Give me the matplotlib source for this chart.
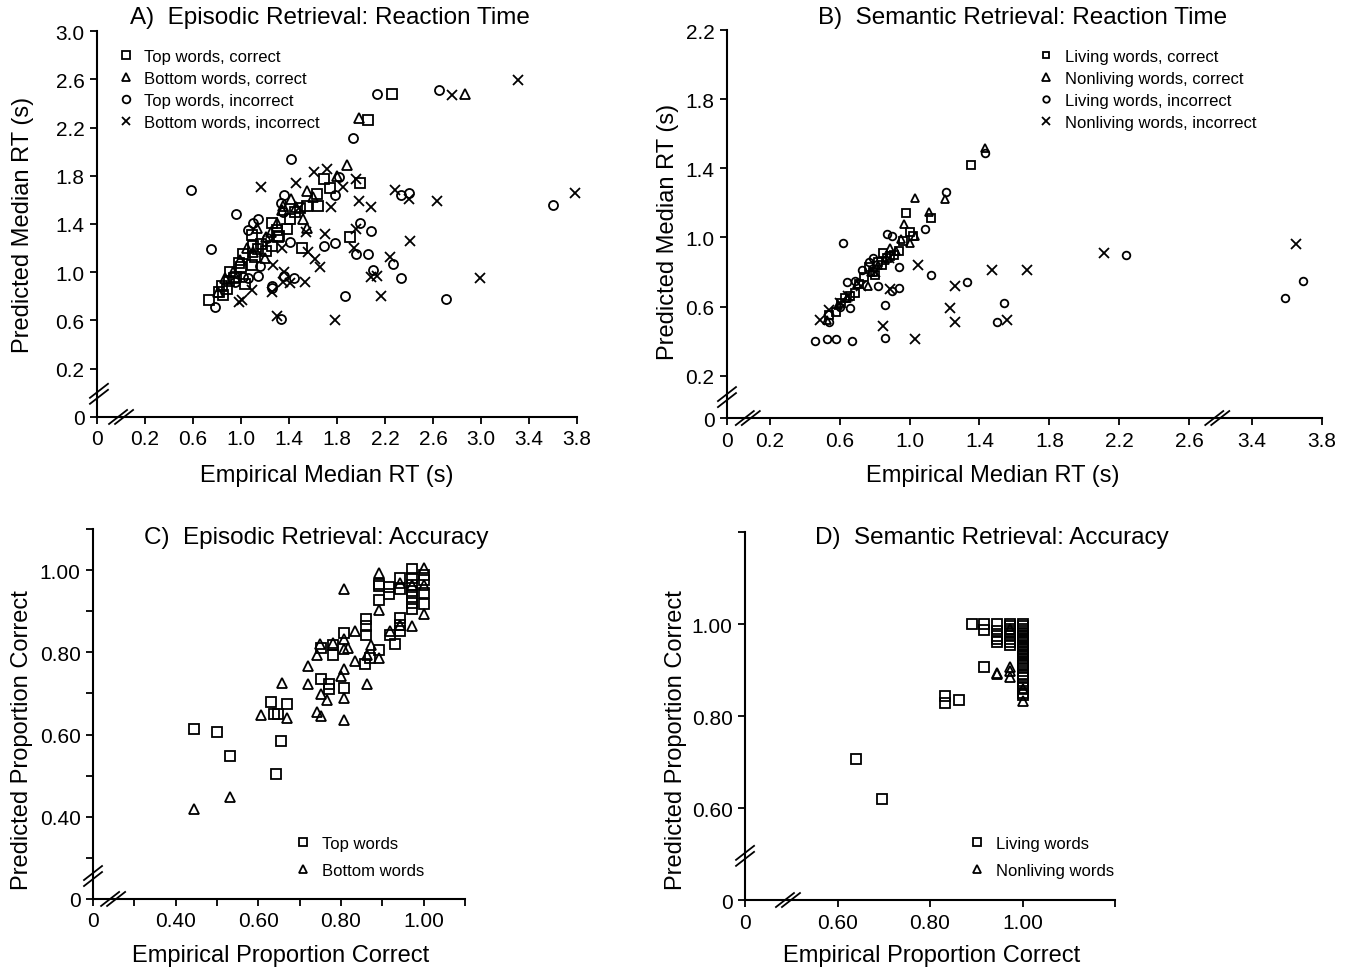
import numpy as np
import matplotlib
matplotlib.use("Agg")
import matplotlib.pyplot as plt

plt.rcParams["font.family"] = ["Liberation Sans", "DejaVu Sans"]

FIG_W, FIG_H = 1348, 970

# ---- A) Episodic retrieval RT ----
a_top_cor_x = [2.26, 2.06, 1.99, 1.69, 1.74, 1.63, 1.64, 1.55, 1.91, 1.51, 1.26, 1.30, 1.31, 1.26,
               1.21, 1.09, 1.10, 1.02, 0.98, 1.09, 0.91, 1.03, 0.94, 0.84, 0.88, 0.85, 0.73, 1.41,
               1.49, 1.38, 1.14, 1.17, 1.32, 1.45, 0.96, 1.00, 0.82, 0.90, 1.12]
a_top_cor_y = [2.48, 2.26, 1.74, 1.77, 1.70, 1.65, 1.55, 1.55, 1.29, 1.20, 1.41, 1.35, 1.29, 1.22,
               1.18, 1.31, 1.22, 1.15, 1.08, 1.06, 1.00, 0.90, 0.95, 0.89, 0.86, 0.81, 0.77, 1.44,
               1.53, 1.36, 1.19, 1.23, 1.30, 1.50, 0.96, 1.04, 0.84, 0.93, 1.13]
a_bot_cor_x = [2.87, 1.98, 1.88, 1.80, 1.55, 1.42, 1.52, 1.55, 1.30, 1.13, 1.21, 1.20, 0.99, 1.10,
               0.87, 0.81, 1.35, 1.46, 1.60, 1.34, 1.05, 0.93, 1.25]
a_bot_cor_y = [2.48, 2.28, 1.89, 1.80, 1.67, 1.61, 1.44, 1.37, 1.41, 1.37, 1.29, 1.12, 1.10, 1.17,
               0.95, 0.84, 1.55, 1.54, 1.62, 1.52, 1.20, 1.00, 1.33]
a_top_inc_x = [0.58, 0.96, 0.75, 0.78, 1.42, 1.36, 1.33, 1.35, 1.14, 1.10, 1.06, 1.41, 1.16, 1.14,
               1.06, 1.26, 1.26, 1.36, 1.44, 1.33, 1.69, 1.78, 1.78, 1.82, 1.93, 2.13, 1.99, 2.08,
               1.96, 2.06, 2.10, 1.87, 2.27, 2.33, 2.33, 2.40, 2.65, 2.71, 3.60, 0.95, 1.02, 1.22]
a_top_inc_y = [1.68, 1.48, 1.19, 0.71, 1.94, 1.64, 1.57, 1.50, 1.44, 1.41, 1.35, 1.25, 1.05, 0.97,
               0.95, 0.89, 0.87, 0.97, 0.95, 0.61, 1.22, 1.24, 1.64, 1.79, 2.11, 2.48, 1.41, 1.34,
               1.15, 1.15, 1.02, 0.80, 1.07, 0.95, 1.64, 1.66, 2.51, 0.78, 1.56, 0.92, 0.96, 1.28]
a_bot_inc_x = [3.31, 2.76, 3.78, 2.63, 2.99, 2.28, 2.40, 2.41, 2.24, 2.08, 2.13, 2.17, 1.78, 2.08,
               1.98, 1.96, 1.85, 1.72, 1.61, 1.46, 1.17, 1.75, 1.70, 1.96, 1.94, 1.54, 1.56, 1.62,
               1.66, 1.53, 1.41, 1.36, 1.35, 1.27, 1.26, 1.30, 1.09, 1.01, 0.98, 1.34, 1.48]
a_bot_inc_y = [2.59, 2.47, 1.66, 1.59, 0.95, 1.68, 1.61, 1.26, 1.13, 0.96, 0.97, 0.80, 0.60, 1.54,
               1.59, 1.77, 1.71, 1.86, 1.83, 1.74, 1.71, 1.54, 1.32, 1.36, 1.20, 1.33, 1.17, 1.11,
               1.04, 0.92, 0.91, 1.00, 0.92, 1.06, 0.84, 0.64, 0.85, 0.77, 0.75, 1.20, 1.53]

# ---- B) Semantic retrieval RT ----
b_liv_cor_x = [1.35, 0.98, 1.12, 1.00, 0.94, 0.89, 0.85, 0.80, 0.77, 0.69, 0.63, 0.61, 0.58, 0.54,
               0.82, 0.87, 0.91, 0.96, 0.74, 0.71, 0.66, 0.84, 0.79, 1.02]
b_liv_cor_y = [1.42, 1.14, 1.11, 1.03, 0.92, 0.89, 0.91, 0.78, 0.83, 0.68, 0.65, 0.62, 0.57, 0.55,
               0.86, 0.88, 0.90, 0.98, 0.77, 0.73, 0.66, 0.84, 0.80, 1.01]
b_non_cor_x = [1.43, 1.03, 1.20, 1.11, 0.97, 1.03, 1.00, 0.95, 0.76, 0.70, 0.64, 0.59, 0.53, 0.82,
               0.89, 0.86, 0.78, 0.92]
b_non_cor_y = [1.52, 1.23, 1.22, 1.15, 1.08, 1.01, 0.97, 0.99, 0.72, 0.73, 0.65, 0.61, 0.52, 0.84,
               0.94, 0.87, 0.80, 0.92]
b_liv_inc_x = [1.43, 1.21, 1.09, 0.87, 0.90, 0.62, 0.94, 1.12, 0.79, 0.73, 0.64, 0.69, 0.82, 0.94,
               0.90, 0.66, 0.86, 1.33, 1.54, 1.50, 0.46, 0.53, 0.58, 0.67, 0.86, 2.24, 3.59, 3.69,
               0.54, 0.60, 0.77]
b_liv_inc_y = [1.49, 1.26, 1.05, 1.02, 1.01, 0.97, 0.83, 0.78, 0.88, 0.81, 0.74, 0.75, 0.72, 0.71,
               0.69, 0.59, 0.61, 0.74, 0.62, 0.51, 0.40, 0.41, 0.41, 0.40, 0.42, 0.90, 0.65, 0.75,
               0.51, 0.60, 0.86]
b_non_inc_x = [2.11, 3.65, 1.05, 1.47, 1.67, 1.26, 0.89, 1.23, 1.26, 1.56, 0.85, 1.03, 0.49, 0.54,
               0.60, 0.65, 0.72, 0.80, 0.88]
b_non_inc_y = [0.91, 0.96, 0.84, 0.81, 0.81, 0.72, 0.70, 0.59, 0.51, 0.52, 0.49, 0.41, 0.52, 0.58,
               0.62, 0.66, 0.72, 0.80, 0.88]

# ---- C) Episodic retrieval accuracy ----
c_top_x = [0.445, 0.501, 0.531, 0.655, 0.642, 0.630, 0.670, 0.639, 0.647, 0.751, 0.770, 0.770,
           0.808, 0.751, 0.780, 0.780, 0.808, 0.861, 0.861, 0.861, 0.858, 0.870, 0.891, 0.931,
           0.919, 0.943, 0.943, 0.943, 0.891, 0.891, 0.891, 0.917, 0.917, 0.943, 0.943, 0.972,
           0.972, 0.972, 0.972, 0.972, 0.972, 0.972, 1.0, 1.0, 1.0, 1.0]
c_top_y = [0.614, 0.607, 0.548, 0.585, 0.503, 0.680, 0.675, 0.650, 0.650, 0.735, 0.724, 0.711,
           0.713, 0.811, 0.793, 0.819, 0.846, 0.880, 0.863, 0.841, 0.772, 0.786, 0.805, 0.821,
           0.841, 0.884, 0.867, 0.851, 0.928, 0.961, 0.967, 0.959, 0.942, 0.953, 0.981, 1.002,
           0.981, 0.965, 0.950, 0.935, 0.920, 0.905, 0.989, 0.975, 0.945, 0.918]
c_bot_x = [0.445, 0.531, 0.606, 0.658, 0.670, 0.721, 0.721, 0.743, 0.749, 0.751, 0.767, 0.743,
           0.751, 0.780, 0.800, 0.808, 0.808, 0.808, 0.808, 0.808, 0.818, 0.808, 0.834, 0.834,
           0.863, 0.863, 0.873, 0.891, 0.891, 0.891, 0.919, 0.943, 0.943, 0.972, 0.972, 1.0,
           1.0, 1.0]
c_bot_y = [0.420, 0.449, 0.648, 0.725, 0.641, 0.766, 0.724, 0.794, 0.821, 0.699, 0.683, 0.656,
           0.646, 0.823, 0.743, 0.759, 0.690, 0.636, 0.833, 0.808, 0.810, 0.954, 0.851, 0.780,
           0.723, 0.793, 0.817, 0.785, 0.993, 0.904, 0.851, 0.866, 0.969, 0.863, 0.965, 1.006,
           0.965, 0.893]

# ---- D) Semantic retrieval accuracy ----
d_liv_x = [0.640, 0.696, 0.833, 0.833, 0.862, 0.890, 0.917, 0.917, 0.917, 0.945, 0.945, 0.945,
           0.945, 0.945, 0.973, 0.973, 0.973, 0.973, 0.973, 0.973, 0.973, 0.973, 0.973,
           1.0, 1.0, 1.0, 1.0, 1.0, 1.0, 1.0, 1.0, 1.0, 1.0, 1.0, 1.0, 1.0, 1.0, 1.0, 1.0,
           1.0, 1.0, 1.0, 1.0, 1.0, 1.0, 1.0, 1.0, 1.0, 1.0, 1.0]
d_liv_y = [0.706, 0.620, 0.844, 0.829, 0.835, 1.000, 1.000, 0.987, 0.906, 1.000, 0.985, 0.975,
           0.968, 0.962, 1.000, 0.995, 0.990, 0.985, 0.980, 0.975, 0.968, 0.962, 0.955,
           1.000, 0.995, 0.990, 0.985, 0.980, 0.975, 0.970, 0.965, 0.960, 0.955, 0.950, 0.945,
           0.940, 0.935, 0.930, 0.925, 0.920, 0.915, 0.910, 0.905, 0.890, 0.885, 0.877, 0.870,
           0.862, 0.851, 0.846]
d_non_x = [0.945, 0.945, 0.973, 0.973, 0.973, 1.0, 1.0, 0.973]
d_non_y = [0.891, 0.893, 0.906, 0.898, 0.884, 0.833, 0.858, 0.990]

# axis tick values (the "0" label sits at a shifted spot past the axis break)
a_ticks = [0.2, 0.6, 1.0, 1.4, 1.8, 2.2, 2.6, 3.0, 3.4, 3.8]
a_yticks = [0.2, 0.6, 1.0, 1.4, 1.8, 2.2, 2.6, 3.0]
b_xticks = [0.2, 0.6, 1.0, 1.4, 1.8, 2.2, 2.6, 3.4, 3.8]
b_yticks = [0.2, 0.6, 1.0, 1.4, 1.8, 2.2]
c_ticks = [0.3, 0.4, 0.5, 0.6, 0.7, 0.8, 0.9, 1.0, 1.1]
c_labels = ["", "0.40", "", "0.60", "", "0.80", "", "1.00", ""]
d_ticks = [0.6, 0.8, 1.0, 1.2]
d_xlabels = ["0.60", "0.80", "1.00", ""]
d_ylabels = ["0.60", "0.80", "1.00", ""]

B_GAP = 0.44  # x values past the 2.6/3.4 break are shifted left by this

TITLE_FS = 17.5
LABEL_FS = 17
TICK_FS = 15
LEGEND_FS = 12


def b_shift(vals):
    vals = np.asarray(vals, dtype=float)
    return np.where(vals > 3.0, vals - B_GAP, vals)


def draw_break(ax, xf, yf, on_yaxis):
    """axis break mark (two short slashes)"""
    pos = ax.get_position()
    w = pos.width * FIG_W
    h = pos.height * FIG_H
    for off in (-3, 3):
        dx, dy = (0, off) if on_yaxis else (off, 0)
        xs = [xf + (dx - 9) / w, xf + (dx + 9) / w]
        ys = [yf + (dy - 7) / h, yf + (dy + 7) / h]
        ax.plot(xs, ys, transform=ax.transAxes, color="black", lw=1.3, clip_on=False)


def style_axes(ax):
    for s in ["top", "right"]:
        ax.spines[s].set_visible(False)
    for s in ["left", "bottom"]:
        ax.spines[s].set_linewidth(1.5)
    ax.tick_params(direction="out", length=5, width=1.3, labelsize=TICK_FS, pad=4)


def scatter(ax, x, y, marker, ms, label):
    ax.plot(x, y, linestyle="none", marker=marker, ms=ms, mfc="none", mec="black",
            mew=1.3, label=label, clip_on=False)


def add_legend(ax, x0, y0, spacing):
    ax.legend(loc="upper left", bbox_to_anchor=(x0, y0), frameon=False, fontsize=LEGEND_FS,
              handlelength=1.0, handletextpad=0.6, labelspacing=spacing, borderpad=0,
              borderaxespad=0, markerscale=0.85)


def add_labels(ax, title, tx, ty, xlabel, xl, ylabel, yl):
    ax.text(tx, ty, title, transform=ax.transAxes, ha="center", va="center", fontsize=TITLE_FS)
    ax.set_xlabel(xlabel, fontsize=LABEL_FS, va="center")
    ax.xaxis.set_label_coords(*xl)
    ax.set_ylabel(ylabel, fontsize=LABEL_FS, va="center")
    ax.yaxis.set_label_coords(*yl)


fig = plt.figure(figsize=(FIG_W / 100, FIG_H / 100), dpi=100)

# ---- panel A ----
axA = fig.add_axes([0.0720, 0.5691, 0.3561, 0.3979])
scatter(axA, a_top_cor_x, a_top_cor_y, "s", 6.5, "Top words, correct")
scatter(axA, a_bot_cor_x, a_bot_cor_y, "^", 7, "Bottom words, correct")
scatter(axA, a_top_inc_x, a_top_inc_y, "o", 6.5, "Top words, incorrect")
scatter(axA, a_bot_inc_x, a_bot_inc_y, "x", 7.5, "Bottom words, incorrect")
axA.set_xlim(-0.2, 3.8)
axA.set_ylim(-0.2, 3.0)
axA.set_xticks([-0.2] + a_ticks, ["0"] + ["%.1f" % t for t in a_ticks])
axA.set_yticks([-0.2] + a_yticks, ["0"] + ["%.1f" % t for t in a_yticks])
style_axes(axA)
add_legend(axA, 0.042, 0.954, 0.42)
add_labels(axA, "A)  Episodic Retrieval: Reaction Time", 0.485, 1.036,
           "Empirical Median RT (s)", (0.479, -0.150),
           "Predicted Median RT (s)", (-0.155, 0.5))
draw_break(axA, 0.004, 0.06, True)
draw_break(axA, 0.05, 0.0, False)

# ---- panel B ----
axB = fig.add_axes([0.5393, 0.5680, 0.4414, 0.4])
scatter(axB, b_shift(b_liv_cor_x), b_liv_cor_y, "s", 5.5, "Living words, correct")
scatter(axB, b_shift(b_non_cor_x), b_non_cor_y, "^", 6, "Nonliving words, correct")
scatter(axB, b_shift(b_liv_inc_x), b_liv_inc_y, "o", 5.5, "Living words, incorrect")
scatter(axB, b_shift(b_non_inc_x), b_non_inc_y, "x", 6.5, "Nonliving words, incorrect")
axB.set_xlim(-0.045, 3.8 - B_GAP)
axB.set_ylim(-0.045, 2.2)
axB.set_xticks([-0.045] + list(b_shift(b_xticks)), ["0"] + ["%.1f" % t for t in b_xticks])
axB.set_yticks([-0.045] + b_yticks, ["0"] + ["%.1f" % t for t in b_yticks])
style_axes(axB)
add_legend(axB, 0.523, 0.951, 0.42)
add_labels(axB, "B)  Semantic Retrieval: Reaction Time", 0.496, 1.034,
           "Empirical Median RT (s)", (0.447, -0.147),
           "Predicted Median RT (s)", (-0.099, 0.482))
draw_break(axB, 0.0, 0.054, True)
draw_break(axB, 0.035, 0.0, False)
draw_break(axB, 0.824, 0.0, False)

# ---- panel C ----
axC = fig.add_axes([0.0690, 0.0722, 0.2760, 0.3814])
scatter(axC, c_top_x, c_top_y, "s", 7, "Top words")
scatter(axC, c_bot_x, c_bot_y, "^", 7.5, "Bottom words")
axC.set_xlim(0.2, 1.1)
axC.set_ylim(0.2, 1.1)
axC.set_xticks([0.2] + c_ticks, ["0"] + c_labels)
axC.set_yticks([0.2] + c_ticks, ["0"] + c_labels)
style_axes(axC)
add_legend(axC, 0.543, 0.170, 0.72)
add_labels(axC, "C)  Episodic Retrieval: Accuracy", 0.60, 0.978,
           "Empirical Proportion Correct", (0.503, -0.151),
           "Predicted Proportion Correct", (-0.190, 0.432))
draw_break(axC, 0.0, 0.062, True)
draw_break(axC, 0.054, 0.0, False)

# ---- panel D ----
axD = fig.add_axes([0.5527, 0.0711, 0.2745, 0.3794])
scatter(axD, d_liv_x, d_liv_y, "s", 6.5, "Living words")
scatter(axD, d_non_x, d_non_y, "^", 7, "Nonliving words")
axD.set_xlim(0.4, 1.2)
axD.set_ylim(0.4, 1.2)
axD.set_xticks([0.4] + d_ticks, ["0"] + d_xlabels)
axD.set_yticks([0.4] + d_ticks, ["0"] + d_ylabels)
style_axes(axD)
add_legend(axD, 0.605, 0.174, 0.72)
add_labels(axD, "D)  Semantic Retrieval: Accuracy", 0.668, 0.986,
           "Empirical Proportion Correct", (0.505, -0.149),
           "Predicted Proportion Correct", (-0.186, 0.4375))
draw_break(axD, 0.0, 0.12, True)
draw_break(axD, 0.116, 0.0, False)

fig.savefig("out.png", dpi=100)
